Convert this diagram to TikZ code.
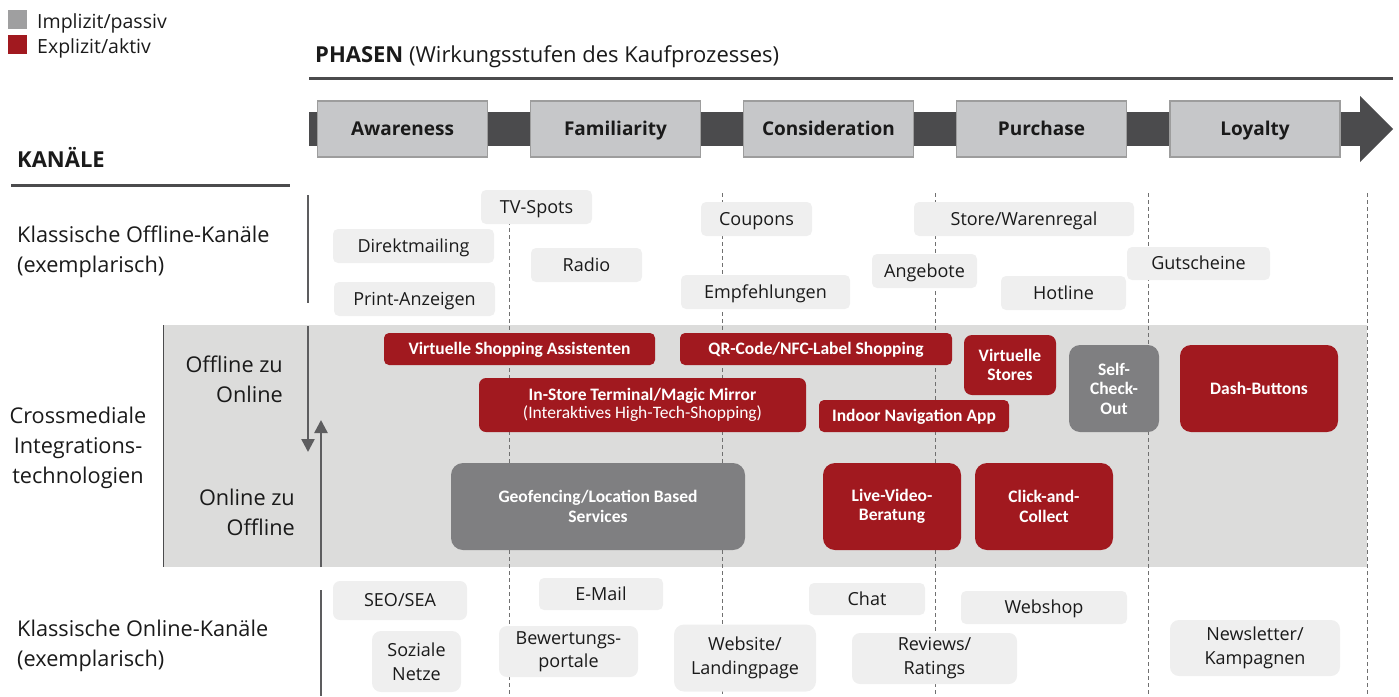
\documentclass[tikz,border=0pt]{standalone}
\usepackage{fontspec}
\setmainfont{Open Sans}
\newfontfamily\cond{Carlito}
\usetikzlibrary{arrows.meta}
\definecolor{redbox}{HTML}{A1191F}
\definecolor{graybox}{HTML}{7F7F81}
\definecolor{lightbox}{HTML}{EFEFEF}
\definecolor{bandbg}{HTML}{DCDCDB}
\definecolor{darkband}{HTML}{4B4B4D}
\definecolor{phasefill}{HTML}{C6C7C9}
\definecolor{phaseborder}{HTML}{9D9D9D}
\definecolor{textc}{HTML}{1A1A1A}
\definecolor{gridc}{HTML}{707070}
\begin{document}
\begin{tikzpicture}[x=1pt,y=-1pt,
  lbox/.style={fill=lightbox, rounded corners=5pt, inner sep=0pt, text=textc,
    font=\fontsize{18}{24}\selectfont, align=center},
  sl/.style={text height=12.9pt, text depth=0pt},
  rbox/.style={fill=redbox, rounded corners=5pt, inner sep=0pt, text=white,
    font=\cond\bfseries\fontsize{17.5}{19.5}\selectfont, align=center},
  rsl/.style={text height=11.3pt, text depth=0pt},
  gbox/.style={rbox, fill=graybox},
  phasebox/.style={fill=phasefill, draw=phaseborder, line width=1.5pt, inner sep=0pt,
    text=textc, font=\bfseries\fontsize{19}{21}\selectfont,
    minimum width=170pt, minimum height=56pt, text height=13.6pt, text depth=0pt},
  label/.style={text=textc, font=\fontsize{21.7}{30}\selectfont, inner sep=0pt},
  grid/.style={gridc, line width=1pt, dash pattern=on 4pt off 3pt},
  bar/.style={darkband, line width=3pt},
  vbar/.style={darkband!90, line width=2.5pt}
]
\useasboundingbox (0,0) rectangle (1399,696);

% legend
\fill[graybox!75] (8,10) rectangle (27,29);
\fill[redbox] (8,35) rectangle (27,54);
\node[label, anchor=west, font=\fontsize{19.5}{22}\selectfont] (limp) at (37,23) {Implizit/passiv};
\node[label, anchor=west, font=\fontsize{19.5}{22}\selectfont] (lexp) at (37,48) {Explizit/aktiv};

% headers
\node[label, anchor=west, font=\fontsize{22}{26}\selectfont] (phasen) at (315,57) {\textbf{PHASEN} (Wirkungsstufen des Kaufprozesses)};
\draw[bar] (309,78) -- (1393,78);
\node[label, anchor=west, font=\bfseries\fontsize{22}{26}\selectfont] (kanaele) at (17,157) {KANÄLE};
\draw[bar] (11,185) -- (290,185);

% crossmedia band
\fill[bandbg] (163,325) rectangle (1367,567);
\draw[darkband, line width=1pt] (163,325) -- (163,567);

% grid lines
\foreach \x in {509,722,935,1148,1367} \draw[grid] (\x,193) -- (\x,696);

% phase arrow
\fill[darkband] (309,112) rectangle (1361,146);
\fill[darkband] (1360,96) -- (1393,129) -- (1360,162) -- cycle;
\node[phasebox] (awareness) at (402.5,129) {Awareness};
\node[phasebox] (familiarity) at (615.5,129) {Familiarity};
\node[phasebox] (consideration) at (828.5,129) {Consideration};
\node[phasebox] (purchase) at (1041.5,129) {Purchase};
\node[phasebox] (loyalty) at (1255,129) {Loyalty};

% left labels
\node[label, anchor=west, align=left] (offlab) at (17,251.5) {Klassische Offline-Kanäle\\(exemplarisch)};
\node[label, align=center] (crosslab) at (78,447.5) {Crossmediale\\Integrations-\\technologien};
\node[label, anchor=east, align=right] (o2o) at (283,379.5) {Offline zu\\Online};
\node[label, anchor=east, align=right] (on2off) at (295,512.5) {Online zu\\Offline};
\node[label, anchor=west, align=left] (onlab) at (17,646) {Klassische Online-Kanäle\\(exemplarisch)};

% vertical bars and arrows
\draw[vbar] (308,195) -- (308,303);
\draw[vbar] (321,590) -- (321,696);
\coordinate (dtop) at (308,326);
\coordinate (dbot) at (308,452);
\coordinate (utop) at (321,420);
\coordinate (ubot) at (321,567);
\draw[vbar, -{Triangle[length=13pt,width=13pt]}] (dtop) -- (dbot);
\draw[vbar, -{Triangle[length=13pt,width=13pt]}] (ubot) -- (utop);

% classic offline
\node[lbox, sl, minimum width=111pt, minimum height=34pt] (tv) at (536.5,207) {TV-Spots};
\node[lbox, sl, minimum width=161pt, minimum height=34pt] (direkt) at (413.5,246) {Direktmailing};
\node[lbox, sl, minimum width=161pt, minimum height=34pt] (print) at (414.5,299) {Print-Anzeigen};
\node[lbox, sl, minimum width=111pt, minimum height=34pt] (radio) at (586.5,265) {Radio};
\node[lbox, sl, minimum width=111pt, minimum height=34pt] (coupons) at (756.5,219) {Coupons};
\node[lbox, sl, minimum width=169pt, minimum height=34pt] (empf) at (765.5,292) {Empfehlungen};
\node[lbox, sl, minimum width=220pt, minimum height=34pt] (store) at (1024,219) {Store/Warenregal};
\node[lbox, sl, minimum width=105pt, minimum height=34pt] (angebote) at (924.5,271) {Angebote};
\node[lbox, sl, minimum width=125pt, minimum height=34pt] (hotline) at (1063.5,293) {Hotline};
\node[lbox, sl, minimum width=143pt, minimum height=33pt] (gutscheine) at (1198.5,263.5) {Gutscheine};

% crossmedia
\node[rbox, rsl, minimum width=271pt, minimum height=32pt] (vsa) at (519.5,349) {Virtuelle Shopping Assistenten};
\node[rbox, rsl, minimum width=272pt, minimum height=32pt] (qr) at (816,349) {QR-Code/NFC-Label Shopping};
\node[rbox, minimum width=92pt, minimum height=60pt, rounded corners=8pt] (vstores) at (1010,365) {Virtuelle\\Stores};
\node[gbox, minimum width=90pt, minimum height=87pt, rounded corners=11pt] (selfco) at (1114,388.5) {Self-\\Check-\\Out};
\node[rbox, rsl, minimum width=158pt, minimum height=87pt, rounded corners=11pt] (dash) at (1259,388.5) {Dash-Buttons};
\node[rbox, minimum width=327pt, minimum height=54pt, rounded corners=7pt, font=\cond\fontsize{17.5}{18}\selectfont] (instore) at (642.5,405) {\bfseries In-Store Terminal/Magic Mirror\\(Interaktives High-Tech-Shopping)};
\node[rbox, rsl, minimum width=190pt, minimum height=32pt] (indoor) at (914,416) {Indoor Navigation App};
\node[gbox, minimum width=294pt, minimum height=87pt, rounded corners=12pt] (geo) at (598,506.5) {Geofencing/Location Based\\Services};
\node[rbox, minimum width=138pt, minimum height=87pt, rounded corners=12pt] (live) at (892,506.5) {Live-Video-\\Beratung};
\node[rbox, minimum width=138pt, minimum height=87pt, rounded corners=12pt] (click) at (1044,506.5) {Click-and-\\Collect};

% classic online
\node[lbox, sl, minimum width=134pt, minimum height=39pt, rounded corners=7pt] (seo) at (400,600.5) {SEO/SEA};
\node[lbox, minimum width=89pt, minimum height=61pt, rounded corners=9pt] (soziale) at (416.5,661.5) {Soziale\\Netze};
\node[lbox, sl, minimum width=124pt, minimum height=32pt] (email) at (601,594) {E-Mail};
\node[lbox, minimum width=139pt, minimum height=51pt, rounded corners=8pt, font=\fontsize{18}{23}\selectfont] (bewert) at (568.5,651.5) {Bewertungs-\\portale};
\node[lbox, minimum width=142pt, minimum height=67pt, rounded corners=10pt] (website) at (745,658) {Website/\\Landingpage};
\node[lbox, sl, minimum width=116pt, minimum height=32pt] (chat) at (867,599) {Chat};
\node[lbox, minimum width=165pt, minimum height=51pt, rounded corners=8pt] (reviews) at (934.5,658.5) {Reviews/\\Ratings};
\node[lbox, sl, minimum width=166pt, minimum height=33pt] (webshop) at (1044,607.5) {Webshop};
\node[lbox, minimum width=170pt, minimum height=56pt, rounded corners=9pt] (newsletter) at (1255,648) {Newsletter/\\Kampagnen};
\end{tikzpicture}
\end{document}
